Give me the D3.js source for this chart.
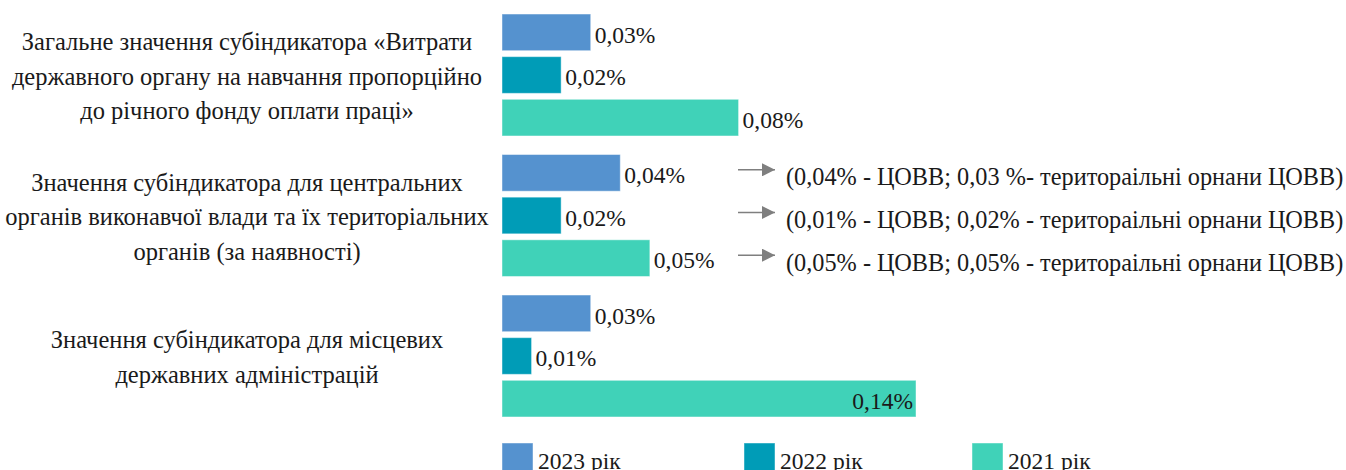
<!DOCTYPE html>
<html>
<head>
<meta charset="utf-8">
<script src="https://cdn.jsdelivr.net/npm/d3@7"></script>
<style>
  html, body { margin: 0; padding: 0; background: #fff; }
  svg { display: block; }
</style>
</head>
<body>
<svg id="chart" width="1346" height="470"></svg>
<script>
// ---- data ----
const categories = [
  "Загальне значення субіндикатора «Витрати державного органу на навчання пропорційно до річного фонду оплати праці»",
  "Значення субіндикатора для центральних органів виконавчої влади та їх територіальних органів (за наявності)",
  "Значення субіндикатора для місцевих державних адміністрацій"
];
const categoryLines = [
  ["Загальне значення субіндикатора «Витрати", "державного органу на навчання пропорційно", "до річного фонду оплати праці»"],
  ["Значення субіндикатора для центральних", "органів виконавчої влади та їх територіальних", "органів (за наявності)"],
  ["Значення субіндикатора для місцевих", "державних адміністрацій"]
];
const series = ["2023 рік", "2022 рік", "2021 рік"];
const values2023 = [0.03, 0.04, 0.03];
const values2022 = [0.02, 0.02, 0.01];
const values2021 = [0.08, 0.05, 0.14];
const valueLabels2023 = ["0,03%", "0,04%", "0,03%"];
const valueLabels2022 = ["0,02%", "0,02%", "0,01%"];
const valueLabels2021 = ["0,08%", "0,05%", "0,14%"];
const notes = [
  "(0,04% - ЦОВВ; 0,03 %- територаільні орнани ЦОВВ)",
  "(0,01% - ЦОВВ; 0,02% - територаільні орнани ЦОВВ)",
  "(0,05% - ЦОВВ; 0,05% - територаільні орнани ЦОВВ)"
];
const colors = ["#5592CF", "#009CB7", "#40D2B8"];

// ---- build ----
const FONT = "'Liberation Serif', 'Times New Roman', serif";
const TXT = "#1a1a1a";
const seriesValues = [values2023, values2022, values2021];
const seriesLabels = [valueLabels2023, valueLabels2022, valueLabels2021];
const rows = [];
categories.forEach((c, ci) => {
  series.forEach((s, si) => {
    rows.push({cat: c, ci, s, si, v: seriesValues[si][ci], label: seriesLabels[si][ci]});
  });
});

const svg = d3.select("#chart");

const x = d3.scaleLinear().domain([0, 0.14]).range([502, 916]);
const y0 = d3.scaleBand().domain(categories).range([4.75, 426.25]).paddingInner(0.132).paddingOuter(0.066);
const y1 = d3.scaleBand().domain(series).range([0, y0.bandwidth()]).paddingInner(0.14);
const color = d3.scaleOrdinal().domain(series).range(colors);
const maxV = d3.max(rows, d => d.v);

// bars
svg.append("g").selectAll("rect").data(rows).join("rect")
  .attr("x", x(0))
  .attr("y", d => y0(d.cat) + y1(d.s))
  .attr("width", d => x(d.v) - x(0))
  .attr("height", y1.bandwidth())
  .attr("fill", d => color(d.s))
  .attr("stroke", "rgba(255,255,255,0.45)")
  .attr("stroke-width", 1);

// value labels
svg.append("g").selectAll("text").data(rows).join("text")
  .attr("font-family", FONT).attr("fill", TXT)
  .attr("x", d => d.v === maxV ? x(d.v) - 3 : x(d.v) + 4)
  .attr("y", d => y0(d.cat) + y1(d.s) + y1.bandwidth() / 2 + 2)
  .attr("dy", "0.35em")
  .attr("text-anchor", d => d.v === maxV ? "end" : "start")
  .attr("font-size", 23.5)
  .text(d => d.label);

// category labels
const lh = 34.5;
categoryLines.forEach((lines, ci) => {
  const cy = y0(categories[ci]) + y0.bandwidth() / 2 + 1;
  const t = svg.append("text")
    .attr("font-family", FONT).attr("fill", TXT)
    .attr("text-anchor", "middle")
    .attr("font-size", 24.5);
  lines.forEach((ln, li) => {
    t.append("tspan")
      .attr("x", 247)
      .attr("y", cy + (li - (lines.length - 1) / 2) * lh)
      .attr("dy", "0.35em")
      .text(ln);
  });
});

// annotations for group 2
const defs = svg.append("defs");
defs.append("marker").attr("id", "arr")
  .attr("viewBox", "0 0 10 10").attr("refX", 10).attr("refY", 5)
  .attr("markerWidth", 13).attr("markerHeight", 13)
  .attr("markerUnits", "userSpaceOnUse")
  .attr("orient", "auto")
  .append("path").attr("d", "M0,0 L10,5 L0,10 Z").attr("fill", "#7f7f7f");

const g2 = categories[1];
const ann = svg.append("g");
series.forEach((s, si) => {
  const cy = y0(g2) + y1(s) + y1.bandwidth() / 2;
  ann.append("line")
    .attr("x1", 738).attr("x2", 775)
    .attr("y1", cy - 3).attr("y2", cy - 3)
    .attr("stroke", "#7f7f7f").attr("stroke-width", 1.5)
    .attr("marker-end", "url(#arr)");
  ann.append("text")
    .attr("font-family", FONT).attr("fill", TXT)
    .attr("x", 786)
    .attr("y", cy + 4)
    .attr("dy", "0.35em")
    .attr("font-size", 24.3)
    .text(notes[si]);
});

// legend
const legendX = [502, 744, 972];
const lg = svg.append("g");
series.forEach((s, si) => {
  lg.append("rect")
    .attr("x", legendX[si]).attr("y", 443)
    .attr("width", 31).attr("height", 31)
    .attr("fill", color(s))
    .attr("stroke", "rgba(255,255,255,0.45)");
  lg.append("text")
    .attr("font-family", FONT).attr("fill", TXT)
    .attr("x", legendX[si] + 36)
    .attr("y", 461)
    .attr("dy", "0.35em")
    .attr("font-size", 23.5)
    .text(s);
});
</script>
</body>
</html>
